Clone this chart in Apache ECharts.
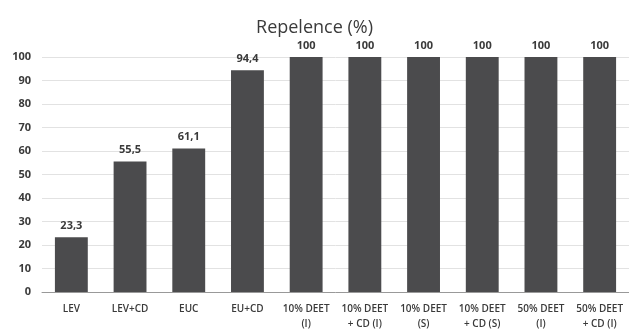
<!DOCTYPE html>
<html>
<head>
<meta charset="utf-8">
<script src="https://cdn.jsdelivr.net/npm/echarts@6/dist/echarts.min.js"></script>
<style>
  html, body { margin: 0; padding: 0; background: #fff; }
  #chart { width: 629px; height: 332px; }
</style>
</head>
<body>
<div id="chart"></div>
<script>
const categories = ['LEV', 'LEV+CD', 'EUC', 'EU+CD', '10% DEET\n(I)', '10% DEET\n+ CD (I)', '10% DEET\n(S)', '10% DEET\n+ CD (S)', '50% DEET\n(I)', '50% DEET\n+ CD (I)'];
const repelence = [23.3, 55.5, 61.1, 94.4, 100, 100, 100, 100, 100, 100];
const yTicks = { min: 0, max: 100, interval: 10 };

const chart = echarts.init(document.getElementById('chart'));
const fontFamily = '"Open Sans", "Noto Sans", sans-serif';

chart.setOption({
  animation: false,
  title: {
    text: 'Repelence (%)',
    left: 'center',
    top: 14,
    textStyle: { fontFamily, fontSize: 18, fontWeight: 'normal', color: '#3a3a3a' }
  },
  grid: { left: 42, right: 0, top: 57, bottom: 40 },
  xAxis: {
    type: 'category',
    data: categories,
    axisTick: { show: false },
    axisLine: { lineStyle: { color: '#999' } },
    axisLabel: {
      interval: 0, fontFamily, fontSize: 10, color: '#3a3a3a', fontWeight: 600,
      lineHeight: 15, margin: 10
    }
  },
  yAxis: {
    type: 'value',
    min: yTicks.min, max: yTicks.max, interval: yTicks.interval,
    axisLine: { show: false },
    axisTick: { show: false },
    splitLine: { lineStyle: { color: '#e2e2e2' } },
    axisLabel: { fontFamily, fontSize: 11, color: '#3a3a3a', fontWeight: 'bold', margin: 11 }
  },
  series: [{
    type: 'bar',
    data: repelence,
    barWidth: '56%',
    itemStyle: { color: '#4b4b4d' },
    label: {
      show: true,
      position: 'top',
      distance: 6,
      fontFamily, fontSize: 11, fontWeight: 'bold', color: '#3a3a3a',
      formatter: p => String(p.value).replace('.', ',')
    }
  }]
});
</script>
</body>
</html>
